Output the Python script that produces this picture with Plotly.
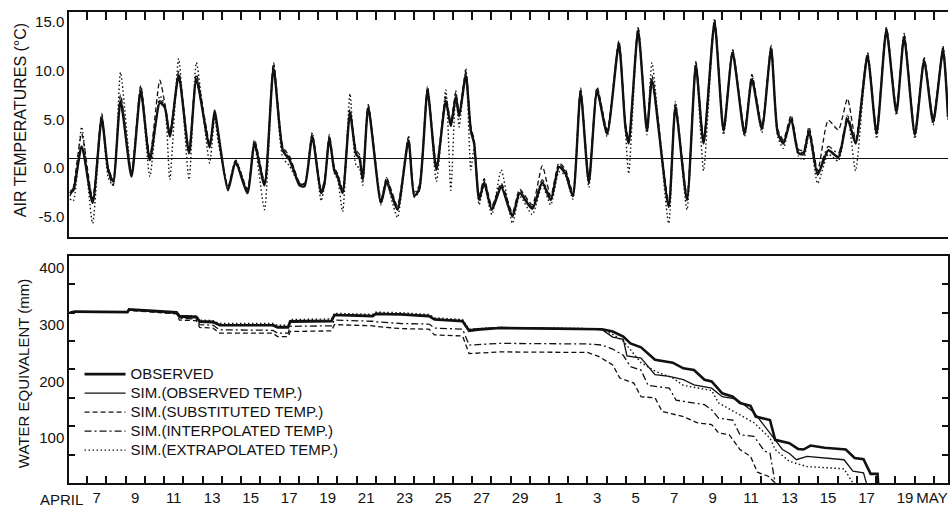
import plotly.graph_objects as go

# ---------------- data (days after 6 April 00:00) ----------------
t_temp = [0.11, 0.29, 0.72, 1.29, 1.76, 2.10, 2.36, 2.74, 3.31, 3.79,
          4.26, 4.78, 5.04, 5.30, 5.76, 6.30, 6.68, 7.37, 7.63, 7.80,
          8.32, 8.72, 9.33, 9.70, 10.22, 10.69, 11.17, 11.52, 11.78, 12.04,
          12.30, 12.70, 13.16, 13.33, 13.59, 13.85, 14.02, 14.28, 14.66, 14.98,
          15.15, 15.32, 15.61, 16.27, 16.56, 16.79, 17.13, 17.70, 18.00, 18.26,
          18.69, 19.15, 19.64, 19.90, 20.16, 20.33, 20.68, 20.94, 21.11, 21.37,
          21.63, 22.03, 22.52, 23.10, 23.48, 24.13, 24.65, 25.09, 25.52, 25.86,
          26.24, 26.64, 27.07, 27.50, 28.02, 28.63, 28.97, 29.14, 29.63, 30.09,
          30.35, 31.22, 31.57, 32.17, 32.63, 33.03, 33.60, 34.07, 34.54, 35.16,
          35.54, 36.06, 36.54, 36.88, 37.18, 37.58, 37.96, 38.22, 38.51, 38.96,
          39.51, 40.03, 40.51, 40.93, 41.55, 42.02, 42.53, 43.05, 43.45, 44.01,
          44.49, 44.96, 45.47, 45.73]

temp_obs = [-3.6, -3.3, 1.2, -4.6, 4.1, -1.2, -2.4, 5.9, -1.9, 6.9,
            -0.2, 5.7, 5.2, 2.2, 8.5, 0.5, 8.1, 1.1, 4.9, 2.8,
            -3.3, -0.4, -3.6, 1.5, -2.8, 9.2, 0.8, -0.2, -1.5, -2.8,
            -2.9, 2.2, -3.6, -2.7, 2.0, -1.3, -1.9, -3.6, 4.6, 0.4,
            0.0, -2.2, 5.2, -4.6, -2.4, -3.6, -5.3, 1.8, -3.9, -3.2,
            6.9, -1.2, 5.9, 3.3, 6.3, 4.3, 8.5, 2.8, 1.5, -4.3,
            -2.5, -5.3, -3.0, -6.0, -3.6, -5.2, -2.5, -4.3, -0.9, -1.6,
            -3.9, 6.8, -2.5, 6.9, 2.5, 11.7, 3.2, 1.5, 13.1, 2.8,
            8.0, -5.0, 5.2, -4.3, 9.5, 1.5, 13.9, 2.8, 10.8, 2.5,
            8.1, 3.0, 11.2, 2.6, 1.5, 4.0, 0.5, 0.4, 2.8, -1.7,
            0.8, 0.1, 4.0, 1.5, 10.5, 2.5, 13.1, 4.7, 12.4, 2.4,
            10.0, 3.7, 11.1, 4.2]

temp_sub = [-3.9, -3.0, 2.5, -4.2, 4.6, -1.5, -2.8, 6.5, -1.6, 7.4,
            0.2, 8.0, 5.6, 2.6, 8.9, 0.9, 8.6, 1.6, 4.4, 2.4,
            -2.9, -0.2, -3.2, 1.9, -2.4, 9.8, 1.2, 0.2, -1.2, -2.5,
            -2.6, 2.5, -3.2, -2.4, 2.4, -1.0, -1.6, -3.2, 5.0, 0.8,
            0.4, -1.8, 5.5, -4.2, -2.0, -3.2, -4.9, 2.2, -3.5, -2.8,
            7.3, -0.8, 6.3, 3.7, 6.8, 4.7, 8.9, 3.2, 1.9, -3.9,
            -2.1, -4.9, -2.6, -5.6, -3.2, -4.8, -0.8, -3.9, -0.5, -1.2,
            -3.5, 7.2, -2.1, 7.3, 2.9, 12.0, 3.6, 1.9, 13.4, 3.2,
            8.5, -4.6, 5.6, -3.9, 9.9, 1.9, 14.2, 3.2, 11.1, 2.9,
            8.6, 3.4, 11.5, 3.0, 1.9, 4.4, 0.9, 0.8, 3.2, -1.3,
            3.9, 2.9, 6.1, 1.9, 10.8, 2.9, 13.4, 5.1, 12.7, 2.8,
            10.3, 4.1, 11.4, 4.6]

temp_int = [-3.4, -3.1, 1.0, -4.2, 3.8, -1.0, -2.2, 5.6, -1.6, 6.6,
            0.0, 5.9, 5.5, 2.4, 8.2, 0.7, 7.8, 1.3, 4.6, 2.9,
            -3.0, -0.6, -3.3, 1.3, -2.6, 8.9, 1.0, 0.0, -1.3, -2.6,
            -2.7, 2.0, -3.4, -2.5, 1.8, -1.1, -1.7, -3.4, 4.4, 0.6,
            0.2, -2.0, 5.0, -4.4, -2.2, -3.4, -5.0, 1.6, -3.7, -3.0,
            6.6, -1.0, 5.7, 3.5, 6.0, 4.5, 8.3, 3.0, 1.7, -4.1,
            -2.3, -5.1, -2.8, -5.8, -3.4, -5.0, -2.2, -4.1, -0.7, -1.4,
            -3.7, 6.5, -2.3, 6.6, 2.7, 11.4, 3.4, 1.7, 12.8, 3.0,
            7.7, -4.8, 5.0, -4.1, 9.2, 1.7, 13.6, 3.0, 10.5, 2.7,
            7.9, 3.2, 10.9, 2.8, 1.7, 3.8, 0.7, 0.6, 2.6, -1.5,
            1.2, 0.5, 4.4, 1.7, 10.2, 2.7, 12.8, 4.9, 12.1, 2.6,
            9.7, 3.9, 10.8, 4.4]

temp_ext = [-4.2, -4.4, 3.2, -6.7, 4.4, -2.0, -2.8, 8.8, -1.5, 7.4,
            -1.9, 6.4, 5.4, -2.2, 10.2, -2.2, 9.8, -0.5, 4.2, 1.8,
            -3.0, -0.2, -3.2, 1.3, -5.3, 9.6, 0.0, -0.8, -1.8, -2.6,
            -2.8, 2.6, -4.4, -2.9, 2.2, -1.6, -2.2, -5.5, 6.6, -0.8,
            -1.0, -2.8, 5.4, -4.8, -2.0, -4.0, -6.1, 2.2, -4.0, -3.4,
            7.3, -2.4, 7.0, -3.3, 6.9, 3.2, 9.2, -1.2, 1.0, -4.8,
            -2.8, -5.8, -1.2, -6.7, -3.9, -5.8, -2.8, -4.8, -1.4, -1.8,
            -4.2, 7.0, -3.0, 7.2, 2.2, 12.0, 2.8, -1.6, 13.4, 2.4,
            9.8, -6.7, 5.8, -5.3, 9.8, -1.3, 14.3, 2.4, 11.1, 2.2,
            8.5, 2.6, 11.6, 2.2, 1.0, 4.2, 0.2, -0.2, 2.6, -2.6,
            0.4, -0.3, 4.4, -1.3, 10.8, 2.0, 13.4, 4.4, 12.8, 2.0,
            10.3, 3.4, 11.5, 3.8]

swe_obs_day = [0.11, 0.35, 3.10, 3.18, 5.65, 5.80, 6.68, 6.85, 7.54, 7.89,
               10.65, 10.90, 11.45, 11.55, 13.70, 13.85, 15.84, 16.00, 17.30, 18.77,
               19.05, 20.51, 20.85, 21.30, 22.44, 27.00, 27.76, 28.31, 28.86, 29.23,
               29.78, 30.51, 31.43, 31.98, 32.53, 33.08, 33.45, 34.00, 34.55, 34.92,
               35.47, 35.74, 36.48, 36.75, 37.49, 37.94, 38.22, 38.59, 39.32, 40.42,
               40.88, 41.34, 41.71, 42.07, 42.10]
swe_obs = [300, 302, 301, 306, 301, 294, 293, 285, 284, 278,
           278, 274, 274, 284, 285, 296, 294, 298, 297, 294,
           288, 285, 268, 270, 273, 272, 271, 267, 258, 246,
           239, 217, 212, 202, 199, 182, 179, 158, 152, 141,
           136, 117, 111, 76, 70, 60, 59, 66, 62, 59,
           44, 42, 16, 16, 0]

swe_sim_day = [0.11, 0.35, 3.10, 3.18, 5.65, 5.80, 6.68, 6.85, 7.54, 7.89,
               10.65, 10.90, 11.45, 11.55, 13.70, 13.85, 15.84, 16.00, 17.30, 18.77,
               19.05, 20.51, 20.85, 21.30, 22.44, 27.00, 27.76, 28.31, 28.86, 29.05,
               29.78, 30.51, 31.25, 31.98, 32.53, 33.45, 34.00, 34.74, 35.47, 35.66,
               36.48, 37.13, 37.49, 37.86, 38.40, 40.33, 40.79, 41.34, 41.49]
swe_sim = [300, 302, 301, 305, 299, 292, 291, 283, 282, 279,
           279, 276, 276, 286, 287, 297, 295, 299, 298, 295,
           289, 286, 270, 272, 274, 272, 270, 257, 253, 224,
           220, 191, 188, 182, 173, 167, 152, 148, 129, 124,
           88, 59, 52, 41, 47, 41, 21, 18, 0]

swe_sub_day = [0.11, 0.35, 3.10, 3.18, 5.65, 5.80, 6.68, 6.85, 7.54, 7.89,
               10.65, 10.90, 11.45, 11.55, 13.70, 13.85, 15.84, 16.00, 17.30, 18.77,
               19.05, 20.51, 20.85, 21.30, 22.44, 27.00, 27.58, 28.31, 28.68, 29.41,
               29.78, 30.51, 30.88, 31.98, 32.72, 33.45, 33.82, 34.37, 34.92, 35.47,
               35.83, 36.39, 36.75]
swe_sub = [300, 302, 301, 304, 298, 287, 286, 274, 273, 264,
           264, 258, 258, 267, 268, 279, 277, 276, 272, 271,
           261, 259, 228, 229, 231, 230, 223, 208, 185, 176,
           152, 150, 126, 117, 106, 103, 88, 85, 59, 47,
           19, 12, 0]

swe_int_day = [0.11, 0.35, 3.10, 3.18, 5.65, 5.80, 6.68, 6.85, 7.54, 7.89,
               10.65, 10.90, 11.45, 11.55, 13.70, 13.85, 15.84, 16.00, 17.30, 18.77,
               19.05, 20.51, 20.85, 21.30, 22.44, 27.00, 27.76, 28.31, 28.86, 29.23,
               29.78, 30.15, 30.51, 31.25, 31.60, 31.98, 33.08, 33.45, 33.82, 34.55,
               34.92, 35.65, 36.20, 36.48, 36.75]
swe_int = [300, 302, 301, 305, 299, 290, 289, 279, 278, 270,
           269, 264, 264, 276, 277, 287, 285, 284, 281, 280,
           273, 271, 243, 244, 246, 245, 243, 236, 225, 205,
           199, 172, 170, 167, 146, 144, 138, 129, 114, 111,
           85, 82, 56, 53, 0]

swe_ext_day = [0.11, 0.35, 3.10, 3.18, 5.65, 5.80, 6.68, 6.85, 7.54, 7.89,
               10.65, 10.90, 11.45, 11.55, 13.70, 13.85, 15.84, 16.00, 17.30, 18.77,
               19.05, 20.51, 20.85, 21.30, 22.44, 27.00, 27.76, 28.31, 28.86, 29.23,
               29.78, 30.51, 31.43, 31.98, 33.45, 33.81, 34.92, 35.66, 36.48, 36.75,
               37.49, 38.40, 40.33, 40.70, 40.79]
swe_ext = [300, 302, 301, 306, 301, 295, 294, 287, 286, 281,
           281, 278, 278, 288, 289, 299, 297, 301, 300, 297,
           291, 288, 271, 272, 274, 272, 270, 262, 250, 235,
           212, 197, 185, 172, 163, 141, 120, 106, 79, 59,
           38, 29, 25, 6, 0]

x_label_pos = [1.5, 3.5, 5.5, 7.5, 9.5, 11.5, 13.5, 15.5, 17.5, 19.5, 21.5, 23.5,
               25.5, 27.5, 29.5, 31.5, 33.5, 35.5, 37.5, 39.5, 41.5, 43.5, 44.9]
x_label_text = ["7", "9", "11", "13", "15", "17", "19", "21", "23", "25", "27", "29",
                "1", "3", "5", "7", "9", "11", "13", "15", "17", "19", "MAY"]
temp_tick_vals = [-5, 0, 5, 10, 15]
temp_tick_text = ["-5.0", "0.0", "5.0", "10.0", "15.0"]
swe_tick_vals = [50, 100, 150, 200, 250, 300, 350, 400]
swe_tick_text = ["", "100", "", "200", "", "300", "", "400"]

legend_names = ["OBSERVED", "SIM.(OBSERVED TEMP.)", "SIM.(SUBSTITUTED TEMP.)",
                "SIM.(INTERPOLATED TEMP.)", "SIM.(EXTRAPOLATED TEMP.)"]

# ---------------- styling ----------------
FONT = "Liberation Sans, Arial, sans-serif"
INK = "#111111"
DASH = "5px,3px"
DASHDOT = "7px,3px,2px,3px"
DOT = "1.5px,2.5px"
X_RANGE = [0.062, 45.73]

fig = go.Figure()


def temp_trace(y, dash, width):
    return go.Scatter(x=t_temp, y=y, mode="lines", xaxis="x", yaxis="y",
                      line=dict(color=INK, width=width, dash=dash,
                                shape="spline", smoothing=0.6),
                      showlegend=False, hoverinfo="skip")


fig.add_trace(temp_trace(temp_ext, DOT, 1.4))
fig.add_trace(temp_trace(temp_int, DASHDOT, 1.2))
fig.add_trace(temp_trace(temp_sub, DASH, 1.3))
fig.add_trace(temp_trace(temp_obs, "solid", 2.4))

swe_series = [
    (swe_obs_day, swe_obs, "solid", 2.6),
    (swe_sim_day, swe_sim, "solid", 1.3),
    (swe_sub_day, swe_sub, DASH, 1.3),
    (swe_int_day, swe_int, DASHDOT, 1.3),
    (swe_ext_day, swe_ext, DOT, 1.4),
]
for name, (xd, yd, dash, w) in zip(legend_names, swe_series):
    fig.add_trace(go.Scatter(x=xd, y=yd, mode="lines",
                             name="<span style='font-size:15px'>" + name + "</span>",
                             xaxis="x2", yaxis="y2",
                             line=dict(color=INK, width=w, dash=dash)))

axis_common = dict(showgrid=False, showline=True, linecolor=INK, linewidth=1.5,
                   tickcolor=INK, tickfont=dict(family=FONT, size=15, color=INK))

fig.update_layout(
    width=951, height=514,
    margin=dict(l=69, r=1, t=12, b=31),
    paper_bgcolor="white", plot_bgcolor="white",
    font=dict(family=FONT, size=15, color=INK),
    xaxis=dict(axis_common, domain=[0, 1], range=X_RANGE, anchor="y", side="top",
               mirror=True, ticks="inside", tickmode="linear", tick0=0, dtick=1,
               ticklen=8, tickwidth=1.5, showticklabels=False, zeroline=False),
    yaxis=dict(axis_common, domain=[0.5223, 1], range=[-8.1, 15], anchor="x",
               tickmode="array", tickvals=temp_tick_vals, ticktext=temp_tick_text,
               ticks="", ticklabelshift=10, zeroline=True, zerolinecolor=INK,
               zerolinewidth=1),
    xaxis2=dict(axis_common, domain=[0, 1], range=X_RANGE, anchor="y2", mirror=True,
                tickmode="array", tickvals=x_label_pos, ticktext=x_label_text,
                ticks="inside", ticklen=0, zeroline=False,
                minor=dict(ticks="inside", ticklen=7, tickwidth=1.5, tickcolor=INK,
                           tickmode="linear", tick0=0, dtick=1, showgrid=False)),
    yaxis2=dict(axis_common, domain=[0, 0.482], range=[0, 400], anchor="x2",
                mirror="ticks", tickmode="array", tickvals=swe_tick_vals,
                ticktext=swe_tick_text, ticks="inside", ticklen=6, tickwidth=1.5,
                ticklabelshift=12, zeroline=False),
    legend=dict(x=0.012, y=0.262, xanchor="left", yanchor="top", itemwidth=41,
                bgcolor="rgba(0,0,0,0)", font=dict(family=FONT, size=12, color=INK),
                tracegroupgap=0),
    showlegend=True,
    annotations=[
        dict(text="AIR TEMPERATURES (°C)", xref="paper", yref="paper",
             x=-0.0556, y=0.7707, textangle=-90, showarrow=False,
             xanchor="center", yanchor="middle", font=dict(family=FONT, size=16, color=INK)),
        dict(text="WATER EQUIVALENT (mm)", xref="paper", yref="paper",
             x=-0.0522, y=0.2314, textangle=-90, showarrow=False,
             xanchor="center", yanchor="middle", font=dict(family=FONT, size=15, color=INK)),
        dict(text="APRIL", xref="paper", yref="paper", x=-0.009, y=-0.034,
             showarrow=False, xanchor="center", yanchor="middle",
             font=dict(family=FONT, size=15, color=INK)),
    ],
)

fig.write_html("out.html")
